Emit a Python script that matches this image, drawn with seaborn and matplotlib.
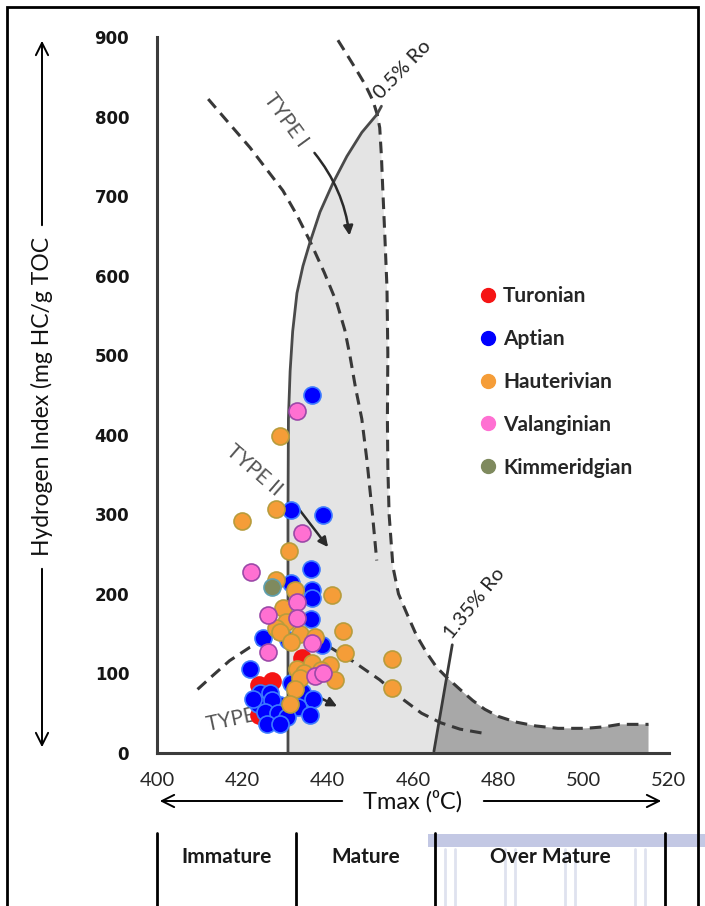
import numpy as np
import pandas as pd
import matplotlib
matplotlib.use("Agg")
import matplotlib.pyplot as plt
import seaborn as sns
from matplotlib.lines import Line2D
from matplotlib.patches import Polygon, Rectangle, FancyArrowPatch

# ---------------- samples: Tmax (deg C) and Hydrogen Index (mg HC/g TOC)
turonian_tmax = [424.0, 427.0, 434.0, 424.0]
turonian_hi = [86, 90, 119, 48]

aptian_tmax = [436.3, 431.3, 439.0, 436.0, 431.3, 436.3, 436.3, 436.0, 424.9, 430.7,
               438.6, 421.8, 431.5, 424.1, 426.5, 433.9, 436.6, 423.7, 428.8, 427.0,
               422.6, 425.3, 428.4, 433.0, 430.5, 435.9, 425.7, 428.8]
aptian_hi = [450, 305, 299, 231, 214, 205, 195, 168, 144, 142,
             136, 106, 88, 75, 75, 77, 68, 62, 60, 66,
             68, 52, 50, 58, 45, 48, 37, 36]

hauterivian_tmax = [428.8, 427.9, 420.0, 431.0, 427.9, 432.3, 440.9, 429.6, 430.3, 428.0,
                    428.8, 433.5, 443.7, 437.0, 431.5, 444.1, 455.0, 455.0, 432.7, 436.3,
                    440.5, 434.5, 438.5, 433.5, 441.7, 432.3, 431.2]
hauterivian_hi = [398, 307, 291, 254, 217, 205, 199, 182, 165, 157,
                  152, 150, 153, 146, 140, 126, 118, 82, 106, 113,
                  111, 101, 104, 94, 92, 81, 62]

valanginian_tmax = [432.9, 433.9, 422.0, 432.7, 426.1, 432.7, 436.3, 426.1, 437.0, 439.0]
valanginian_hi = [430, 276, 228, 190, 173, 170, 138, 127, 97, 100]

kimmeridgian_tmax = [426.9]
kimmeridgian_hi = [209]

stages = ["Turonian", "Aptian", "Hauterivian", "Valanginian", "Kimmeridgian"]
stage_tmax = [turonian_tmax, aptian_tmax, hauterivian_tmax, valanginian_tmax, kimmeridgian_tmax]
stage_hi = [turonian_hi, aptian_hi, hauterivian_hi, valanginian_hi, kimmeridgian_hi]
face_colors = ["#f51414", "#0000ff", "#f59d38", "#ff70d2", "#7f8a5e"]
edge_colors = ["#f51414", "#3d7bff", "#b89c3c", "#9c48a8", "#5fa0b0"]

# ---------------- maturation guide curves (Tmax, HI)
ro05_t = [430.7, 430.7, 430.8, 431.2, 431.8, 432.8, 434.2, 435.8, 438.2, 441.2, 444.5, 448.0, 451.6, 452.6]
ro05_h = [0, 300, 420, 480, 530, 578, 612, 641, 680, 716, 750, 780, 803, 813]

type1_t = [442.4, 444.5, 446.8, 448.8, 450.6, 451.6, 452.2, 452.6, 452.9, 453.4, 453.9, 454.1,
           454.0, 454.1, 454.4, 455.3, 456.6, 458.5, 460.8, 463.2, 465.5, 467.9, 471.0, 474.0,
           476.8, 480.0, 484.0, 488.8, 494.0, 500.5, 505.0, 508.4, 512.0, 515.2]
type1_h = [896, 878, 858, 840, 820, 803, 786, 750, 711, 650, 585, 502,
           420, 360, 300, 234, 200, 176, 148, 126, 108, 95, 80, 66,
           55, 46, 39, 34, 31, 31, 33, 36, 36, 36]

type2_t = [412.0, 416.0, 421.8, 425.5, 429.5, 432.8, 435.8, 439.2, 442.2, 444.0, 445.2,
           446.5, 448.0, 449.2, 450.5, 451.5]
type2_h = [822, 797, 761, 735, 707, 676, 644, 604, 565, 532, 500,
           460, 420, 368, 300, 242]

type3_t = [409.5, 413.0, 417.0, 421.8, 426.0, 431.0, 436.0, 440.5, 446.0, 452.2, 457.0,
           462.0, 466.5, 471.0, 476.3]
type3_h = [80, 97, 116, 133, 143, 148, 145, 133, 115, 92, 70,
           50, 38, 30, 25]

ro135_t = [464.9, 469.2]
ro135_h = [2, 136]

maturity_zones = ["Immature", "Mature", "Over Mature"]

# ---------------- figure
sns.set_style("white")
plt.rcParams["font.family"] = ["Lato", "DejaVu Sans"]

W, H = 705, 906
fig = plt.figure(figsize=(W / 100, H / 100), dpi=100)


def fx(px):
    return px / W


def fy(py):
    return 1 - py / H


ax = fig.add_axes([fx(157), fy(753), (669 - 157) / W, (753 - 37) / H])
ax.set_xlim(400, 520)
ax.set_ylim(0, 900)

# shaded oil window (light) and gas window (dark)
light_poly = list(zip(ro05_t[:13], ro05_h[:13])) + list(zip(type1_t[6:22], type1_h[6:22])) + [(ro135_t[0], 0)]
ax.add_patch(Polygon(light_poly, closed=True, fc="#e4e4e4", ec="none", zorder=0))
dark_poly = [(ro135_t[0], 0)] + list(zip(type1_t[21:], type1_h[21:])) + [(type1_t[-1], 0)]
ax.add_patch(Polygon(dark_poly, closed=True, fc="#a8a8a8", ec="none", zorder=0))

dash_kw = dict(color="#383838", lw=2.2, dashes=(3.8, 2.3), zorder=2)
ax.plot(type1_t, type1_h, **dash_kw)
ax.plot(type2_t, type2_h, **dash_kw)
ax.plot(type3_t, type3_h, **dash_kw)
ax.plot(ro05_t, ro05_h, color="#4a4a4a", lw=2.0, zorder=2)
ax.plot(ro135_t, ro135_h, color="#3a3a3a", lw=2.0, zorder=2)

# kerogen type evolution arrows
arrow_kw = dict(arrowstyle="-|>", color="#2a2a2a", lw=1.8, mutation_scale=14)
ax.annotate("", xy=(445.2, 647), xytext=(436.5, 757),
            arrowprops=dict(connectionstyle="arc3,rad=-0.15", **arrow_kw), zorder=3)
ax.annotate("", xy=(440.5, 256), xytext=(432.2, 314), arrowprops=arrow_kw, zorder=3)
ax.annotate("", xy=(442.8, 57), xytext=(438.0, 70), arrowprops=arrow_kw, zorder=3)

type_kw = dict(color="#555555", fontsize=15, ha="center", va="center", rotation_mode="anchor")
ax.text(430.2, 795, "TYPE I", rotation=-54, **type_kw)
ax.text(422.7, 355, "TYPE II", rotation=-41, **type_kw)
ax.text(411.7, 35, "TYPE III", rotation=12, color="#555555", fontsize=15, ha="left",
        va="center", rotation_mode="anchor", zorder=1)

ax.text(453.0, 818, "0.5% Ro", rotation=46, fontsize=14.5, color="#222222",
        ha="left", va="bottom", rotation_mode="anchor")
ax.text(469.6, 140, "1.35% Ro", rotation=51, fontsize=14.5, color="#222222",
        ha="left", va="bottom", rotation_mode="anchor")

# samples
for name, tx, hx, fc, ec in zip(stages, stage_tmax, stage_hi, face_colors, edge_colors):
    df = pd.DataFrame({"Tmax": tx, "HI": hx})
    sns.scatterplot(data=df, x="Tmax", y="HI", ax=ax, color=fc, edgecolor=ec,
                    linewidth=1.2, s=150, zorder=4, legend=False)

handles = [Line2D([0], [0], marker="o", ls="none", markersize=10, markerfacecolor=c,
                  markeredgecolor=c) for c in face_colors]
ax.legend(handles, stages, loc="upper left", bbox_to_anchor=(fx(480.7), fy(286)),
          bbox_transform=fig.transFigure, frameon=False, borderpad=0, borderaxespad=0,
          handlelength=0.7, handletextpad=0.37, labelspacing=1.1,
          prop=dict(family="Lato", weight="bold", size=15))

# axes styling
ax.set_xticks(np.arange(400, 521, 20))
ax.set_yticks(np.arange(0, 901, 100))
for s in ["top", "right"]:
    ax.spines[s].set_visible(False)
for s in ["left", "bottom"]:
    ax.spines[s].set_color("#3c3c3c")
    ax.spines[s].set_linewidth(2.2)
ax.tick_params(axis="both", direction="out", length=5, width=1, color="#a0a0a0")
ax.tick_params(axis="x", pad=9, labelsize=14.5, labelcolor="#262626")
ax.tick_params(axis="y", pad=15, labelcolor="#151515")
for lab in ax.get_yticklabels():
    lab.set_fontfamily("DejaVu Sans")
    lab.set_fontweight("bold")
    lab.set_fontsize(12)
ax.set_xlabel("")
ax.set_ylabel("")

# y-axis title with arrows
fig.text(fx(42), fy(397), "Hydrogen Index (mg HC/g TOC", rotation=90, ha="center", va="center",
         fontsize=16.5, color="#111111")
line_arrow = dict(arrowstyle="->", color="black", lw=1.4, mutation_scale=22)
fig.add_artist(FancyArrowPatch((fx(42), fy(228)), (fx(42), fy(38)),
               transform=fig.transFigure, **line_arrow))
fig.add_artist(FancyArrowPatch((fx(42), fy(566)), (fx(42), fy(750)),
               transform=fig.transFigure, **line_arrow))

# x-axis title with arrows
fig.text(fx(413), fy(801), "Tmax (\u2070C)", ha="center", va="center", fontsize=17, color="#111111")
fig.add_artist(FancyArrowPatch((fx(345), fy(801)), (fx(157), fy(801)),
               transform=fig.transFigure, **line_arrow))
fig.add_artist(FancyArrowPatch((fx(481), fy(801)), (fx(664), fy(801)),
               transform=fig.transFigure, **line_arrow))

# faint building watermark behind the maturity bar
fig.add_artist(Rectangle((fx(428), fy(847)), fx(705) - fx(428), fy(834) - fy(847),
               transform=fig.transFigure, fc="#c3c8e4", ec="none", zorder=0))
for px in [450, 510, 570, 640]:
    for off in (-5, 5):
        fig.add_artist(Line2D([fx(px + off), fx(px + off)], [fy(849), fy(906)],
                              transform=fig.transFigure, color="#dfe2ef", lw=2, zorder=0))

# maturity bar
for px in [157, 296, 435, 665]:
    fig.add_artist(Line2D([fx(px), fx(px)], [fy(833), fy(906)], transform=fig.transFigure,
                          color="black", lw=2))
for (a, b), name in zip([(157, 296), (296, 435), (435, 665)], maturity_zones):
    fig.text(fx((a + b) / 2), fy(857), name, ha="center", va="center", fontsize=15,
             fontweight="bold", color="#1a1a1a")

# outer frame
fig.add_artist(Rectangle((fx(7), -0.02), fx(698) - fx(7), fy(7) + 0.02,
               transform=fig.transFigure, fill=False, ec="black", lw=2))

fig.savefig("out.png", dpi=100)
